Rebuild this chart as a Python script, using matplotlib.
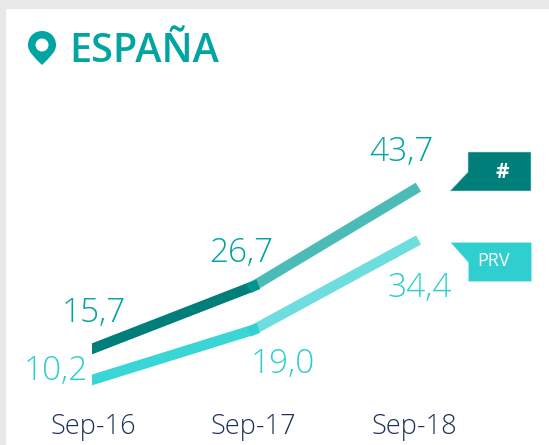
import matplotlib
matplotlib.use('Agg')
from matplotlib import pyplot as plt
from matplotlib.patches import Rectangle, Polygon, PathPatch
from matplotlib.path import Path

# chart data
periods = ['Sep-16', 'Sep-17', 'Sep-18']
total_values = [15.7, 26.7, 43.7]
prv_values = [10.2, 19.0, 34.4]
total_labels = ['15,7', '26,7', '43,7']
prv_labels = ['10,2', '19,0', '34,4']

DARK = '#007f7a'
TEAL = '#009f9b'
TEAL_TEXT = '#00a5a3'
LIGHT = '#3ad6d6'
LABEL_LIGHT = '#2fcfcf'
NAVY = '#1f3358'
W, H = 549, 445

plt.rcParams['font.family'] = ['Open Sans', 'DejaVu Sans']
fig = plt.figure(figsize=(W / 100, H / 100), dpi=100, facecolor='#e8e8e8')

# background layer, in pixel coordinates
bg = fig.add_axes([0, 0, 1, 1])
bg.set_xlim(0, W)
bg.set_ylim(H, 0)
bg.axis('off')
bg.add_patch(Rectangle((6, 9), W, H, color='white', lw=0))

# map pin
k = 0.5523
pin = Path(
    [(42, 65), (34, 57), (28, 52), (28, 45),
     (28, 37), (34, 31), (42, 31),
     (50, 31), (56, 37), (56, 45),
     (56, 52), (50, 57), (42, 65), (42, 65),
     (42, 38.5), (42 - 6.5 * k, 38.5), (35.5, 45 - 6.5 * k), (35.5, 45),
     (35.5, 45 + 6.5 * k), (42 - 6.5 * k, 51.5), (42, 51.5),
     (42 + 6.5 * k, 51.5), (48.5, 45 + 6.5 * k), (48.5, 45),
     (48.5, 45 - 6.5 * k), (42 + 6.5 * k, 38.5), (42, 38.5), (42, 38.5)],
    [Path.MOVETO, Path.CURVE4, Path.CURVE4, Path.CURVE4,
     Path.CURVE4, Path.CURVE4, Path.CURVE4,
     Path.CURVE4, Path.CURVE4, Path.CURVE4,
     Path.CURVE4, Path.CURVE4, Path.CURVE4, Path.CLOSEPOLY,
     Path.MOVETO, Path.CURVE4, Path.CURVE4, Path.CURVE4,
     Path.CURVE4, Path.CURVE4, Path.CURVE4,
     Path.CURVE4, Path.CURVE4, Path.CURVE4,
     Path.CURVE4, Path.CURVE4, Path.CURVE4, Path.CLOSEPOLY])
bg.add_patch(PathPatch(pin, facecolor=TEAL_TEXT, lw=0))
bg.text(69.5, 62, 'ESPAÑA', color=TEAL_TEXT, fontsize=28.5, fontweight='semibold',
        ha='left', va='baseline')

# legend tags
bg.add_patch(Polygon([(468, 152), (531, 152), (531, 191), (450, 191), (468, 172)],
                     facecolor=DARK, edgecolor='#b5dedb', lw=0.4))
bg.add_patch(Polygon([(450, 242), (531, 242), (531, 281), (468, 281), (468, 262)],
                     facecolor=LABEL_LIGHT, edgecolor='#b5eeee', lw=0.4))
bg.text(502, 172, '#', color='white', fontsize=15, fontweight='bold', ha='center', va='center')
bg.text(494, 261, 'PRV', color='white', fontsize=13, ha='center', va='center')

# the chart itself
ax = fig.add_axes([92 / W, (H - 400) / H, (W - 92) / W, 290 / H])
ax.patch.set_alpha(0)
ax.set_xlim(-1 / 160.5, 2.841)
ax.set_ylim(6.61, 57.76)
for s in ax.spines.values():
    s.set_visible(False)
ax.set_yticks([])
ax.set_xticks(range(len(periods)))
ax.set_xticklabels(periods, fontsize=19.5, color=NAVY, fontweight='light')
ax.tick_params(axis='x', length=0, pad=9.5)

xs = list(range(len(periods)))
lw = 10.3 * 0.72
# caps project: the axes edge clips the left end, and the segments overlap at the kink
ax.plot(xs[:2], total_values[:2], color=DARK, lw=lw, solid_capstyle='projecting')
ax.plot(xs[1:], total_values[1:], color=TEAL, alpha=0.7, lw=lw, solid_capstyle='projecting')
ax.plot(xs[:2], prv_values[:2], color=LIGHT, lw=lw, solid_capstyle='projecting')
ax.plot(xs[1:], prv_values[1:], color=LABEL_LIGHT, alpha=0.7, lw=lw, solid_capstyle='projecting')

total_off = [(1, 26.5), (-12.5, 24), (-13, 28.7)]
prv_off = [(-37, -0.3), (29.5, -43), (6, -54.5)]
for i in xs:
    dx, dy = total_off[i]
    ax.annotate(total_labels[i], (i, total_values[i]), xytext=(dx, dy), textcoords='offset pixels',
                color=TEAL_TEXT, fontsize=24, fontweight='light', ha='center', va='baseline')
    dx, dy = prv_off[i]
    ax.annotate(prv_labels[i], (i, prv_values[i]), xytext=(dx, dy), textcoords='offset pixels',
                color=LABEL_LIGHT, fontsize=24, fontweight='light', ha='center', va='baseline')

fig.savefig('out.png', dpi=100, facecolor=fig.get_facecolor())
